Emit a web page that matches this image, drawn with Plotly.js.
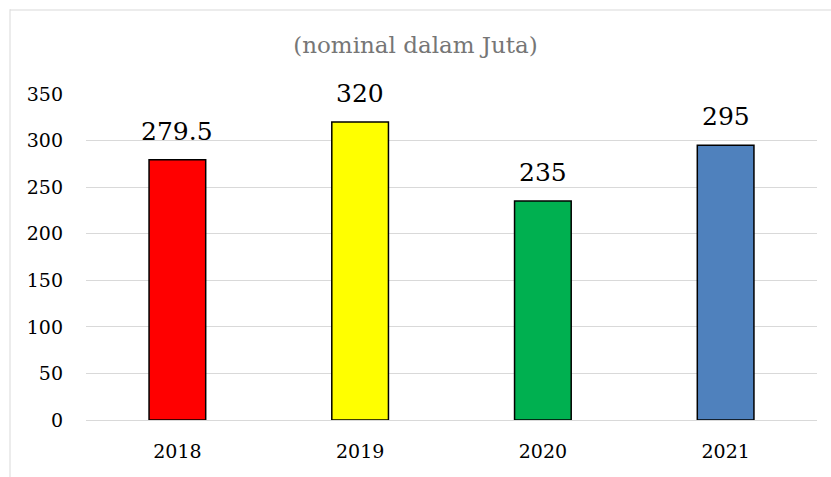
<!DOCTYPE html>
<html>
<head>
<meta charset="utf-8">
<script src="https://cdn.plot.ly/plotly-3.0.1.min.js"></script>
<style>html,body{margin:0;padding:0;background:#fff;}#chart{width:831px;height:477px;}</style>
</head>
<body>
<div id="chart"></div>
<script>
const categories = ["2018", "2019", "2020", "2021"];
const values = [279.5, 320, 235, 295];
const labels = ["279.5", "320", "235", "295"];
const colors = ["#FF0000", "#FFFF00", "#00B050", "#4F81BD"];
const yTicks = [0, 50, 100, 150, 200, 250, 300, 350];

const FONT = "DejaVu Serif, serif";

const trace = {
  type: "bar",
  x: categories,
  y: values,
  marker: {color: colors, line: {color: "#000", width: 1.5}},
  hoverinfo: "none"
};

const annotations = categories.map((c, i) => ({
  x: i, y: values[i], xref: "x", yref: "y",
  text: labels[i], showarrow: false,
  yanchor: "bottom", yshift: 12,
  font: {family: FONT, size: 25, color: "#000"}
}));

const layout = {
  width: 831,
  height: 477,
  margin: {l: 86, r: 14, t: 94, b: 57},
  paper_bgcolor: "#fff",
  plot_bgcolor: "#fff",
  bargap: 0.69,
  showlegend: false,
  title: {
    text: "(nominal dalam Juta)",
    font: {family: FONT, size: 23, color: "#767676"},
    x: 0.5, xanchor: "center",
    y: 1 - 45/477, yanchor: "middle"
  },
  font: {family: FONT, size: 19, color: "#000"},
  xaxis: {
    type: "category",
    categoryarray: categories,
    categoryorder: "array",
    range: [-0.5, categories.length - 0.5],
    showgrid: false,
    showline: true,
    linecolor: "#d9d9d9",
    linewidth: 1,
    ticks: "",
    tickfont: {family: FONT, size: 19, color: "#000"},
    ticklabelstandoff: 14
  },
  yaxis: {
    range: [0, 350],
    tickvals: yTicks,
    showgrid: true,
    gridcolor: "#d9d9d9",
    gridwidth: 1,
    zeroline: false,
    showline: false,
    ticks: "",
    tickfont: {family: FONT, size: 19, color: "#000"},
    ticklabelstandoff: 22
  },
  annotations: annotations,
  shapes: [
    {type: "line", xref: "paper", yref: "paper", x0: (10-86)/731, x1: (10-86)/731, y0: 1.26, y1: -0.3,
     line: {color: "#d9d9d9", width: 1}},
    {type: "line", xref: "paper", yref: "paper", x0: (10-86)/731, x1: 1.1, y0: (420-10)/326, y1: (420-10)/326,
     line: {color: "#d9d9d9", width: 1}}
  ]
};

Plotly.newPlot("chart", [trace], layout, {displayModeBar: false, staticPlot: true});
</script>
</body>
</html>
